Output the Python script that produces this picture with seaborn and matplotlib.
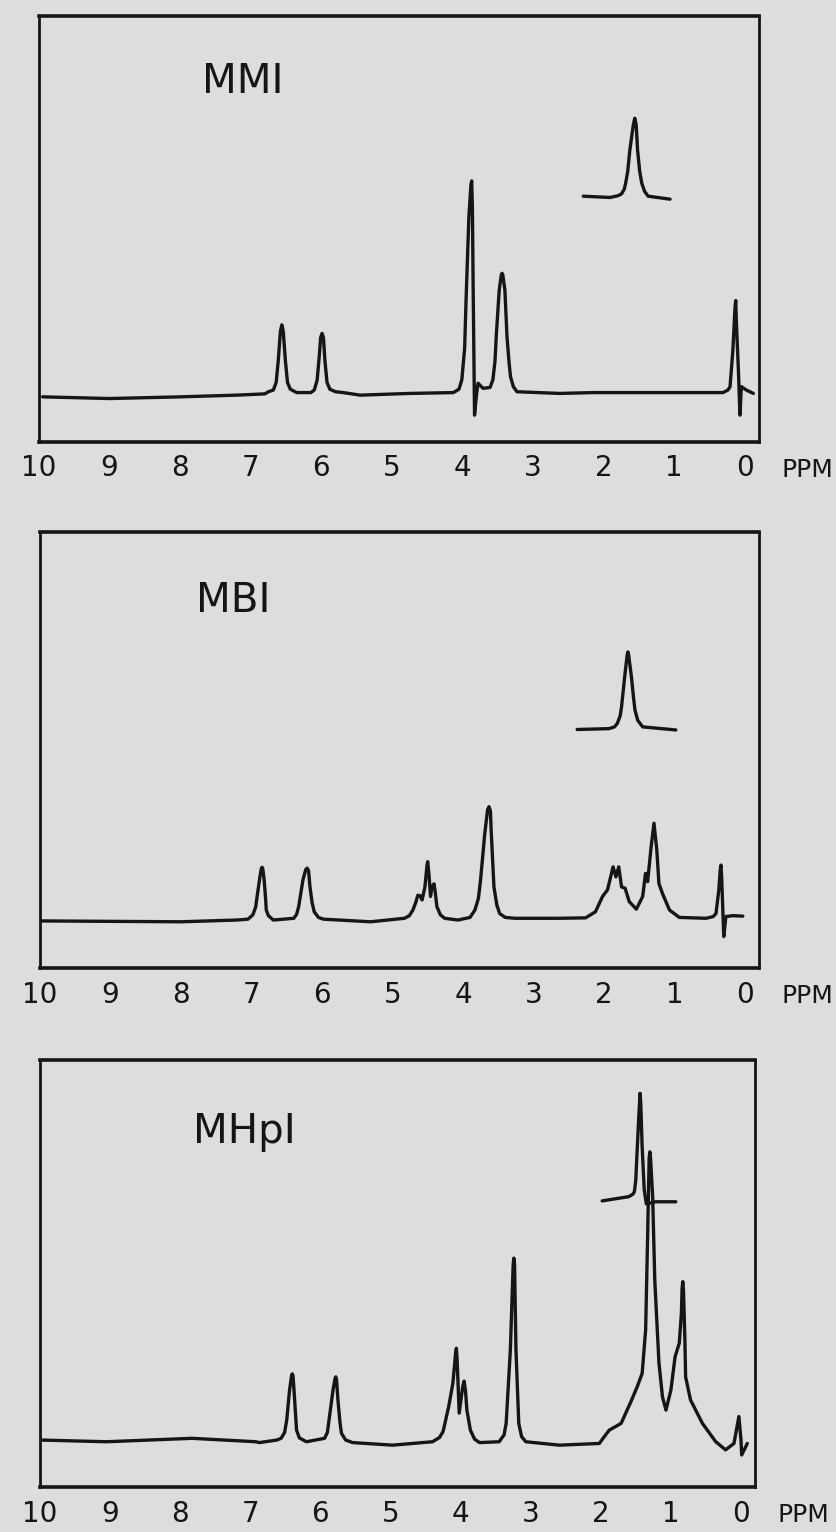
import matplotlib
matplotlib.use("Agg")
import matplotlib.pyplot as plt
import pandas as pd
import seaborn as sns

# spectra: chemical shift (ppm) and height (% of panel height)
names = ["MMI", "MBI", "MHpI"]

mmi_ppm = [9.95, 9.0, 8.0, 7.2, 6.8,
           6.75, 6.68, 6.64, 6.61, 6.58, 6.56, 6.54, 6.51, 6.48, 6.44, 6.35,
           6.15, 6.10, 6.06, 6.03, 6.01, 5.99, 5.97, 5.95, 5.92, 5.88, 5.80, 5.69,
           5.45, 4.75, 4.13,
           4.05, 4.01, 3.97, 3.95, 3.91, 3.88, 3.87, 3.86, 3.85, 3.83, 3.80, 3.78, 3.71, 3.61,
           3.57, 3.54, 3.52, 3.48, 3.45, 3.44, 3.43, 3.40, 3.37, 3.34, 3.32, 3.28, 3.23,
           2.62, 2.15, 1.20, 0.31,
           0.24, 0.21, 0.17, 0.14, 0.13, 0.12, 0.09, 0.07, 0.05, -0.02, -0.12]
mmi_int = [10.6, 10.2, 10.6, 11.0, 11.3,
           11.8, 12.2, 14.0, 19.2, 26.0, 27.5, 26.0, 19.2, 14.0, 12.4, 11.6,
           11.6, 12.2, 14.5, 20.0, 24.5, 25.5, 24.5, 19.2, 14.0, 12.4, 11.8, 11.6,
           11.0, 11.4, 11.6,
           12.4, 14.6, 22.0, 33.3, 52.9, 60.5, 61.3, 55.0, 37.2, 6.3, 11.5, 13.8, 12.6, 12.8,
           14.6, 19.0, 25.5, 35.7, 39.3, 39.6, 39.3, 35.7, 24.7, 18.5, 15.3, 13.0, 11.8,
           11.4, 11.6, 11.6, 11.6,
           12.2, 13.0, 21.6, 31.5, 33.2, 28.0, 16.1, 6.3, 13.0, 12.2, 11.4]
mmi_inset_ppm = [2.29, 1.91, 1.80, 1.75, 1.71, 1.69, 1.66, 1.63, 1.58, 1.56,
                 1.54, 1.52, 1.49, 1.46, 1.42, 1.37, 1.06]
mmi_inset_int = [57.7, 57.4, 57.8, 58.2, 59.3, 60.7, 63.5, 68.5, 74.5, 76.0,
                 74.5, 68.5, 63.5, 60.7, 58.8, 57.7, 57.0]

mbi_ppm = [10.0, 8.0,
           7.21, 7.05, 6.98, 6.94, 6.92, 6.88, 6.86, 6.85, 6.84, 6.82, 6.80, 6.79, 6.76, 6.69,
           6.40, 6.36, 6.33, 6.27, 6.23, 6.21, 6.19, 6.17, 6.14, 6.11, 6.05, 5.98,
           5.31,
           4.83, 4.76, 4.71, 4.67, 4.64, 4.61, 4.58, 4.54, 4.51, 4.50, 4.48, 4.46, 4.44, 4.41,
           4.39, 4.37, 4.32, 4.26, 4.07,
           3.90, 3.83, 3.78, 3.75, 3.69, 3.65, 3.63, 3.61, 3.60, 3.56, 3.52, 3.48, 3.40, 3.26,
           2.64, 2.26, 2.12, 2.02, 1.95, 1.87, 1.83, 1.79, 1.75, 1.70, 1.64, 1.54,
           1.45, 1.41, 1.38, 1.33, 1.29, 1.25, 1.22, 1.17, 1.07, 0.93,
           0.55, 0.45, 0.41, 0.37, 0.35, 0.34, 0.33, 0.32, 0.30, 0.27, 0.17, 0.03]
mbi_int = [10.8, 10.6,
           11.0, 11.2, 12.2, 14.0, 16.4, 20.9, 22.8, 23.1, 22.8, 20.2, 16.0, 13.3, 12.0, 11.0,
           11.4, 12.3, 14.1, 20.2, 22.6, 22.9, 22.3, 18.6, 15.0, 12.9, 11.6, 11.2,
           10.6,
           11.4, 12.0, 13.3, 15.0, 16.7, 16.6, 15.6, 18.5, 23.5, 24.4, 21.0, 16.4, 18.6, 19.3,
           17.0, 14.1, 12.2, 11.4, 11.0,
           11.6, 13.3, 16.0, 20.2, 30.9, 36.3, 37.0, 36.0, 31.7, 18.6, 14.5, 12.5, 11.6, 11.4,
           11.4, 11.5, 12.9, 16.4, 17.9, 23.2, 20.9, 23.2, 18.6, 18.3, 15.2, 13.5,
           16.4, 21.7, 19.8, 27.8, 33.2, 27.1, 19.4, 17.1, 13.3, 11.6,
           11.4, 11.8, 12.5, 17.9, 22.5, 23.6, 21.0, 16.4, 7.2, 11.8, 12.0, 11.9]
mbi_inset_ppm = [2.38, 1.93, 1.85, 1.81, 1.77, 1.75, 1.70, 1.67, 1.66, 1.65,
                 1.61, 1.58, 1.56, 1.52, 1.45, 0.98]
mbi_inset_int = [54.7, 54.9, 55.3, 56.1, 57.8, 59.9, 67.6, 71.8, 72.5, 71.8,
                 66.8, 62.0, 59.2, 56.8, 55.3, 54.6]

mhpi_ppm = [10.0, 9.05, 7.83, 6.92, 6.87,
            6.62, 6.56, 6.51, 6.48, 6.44, 6.41, 6.40, 6.39, 6.37, 6.34, 6.30, 6.20,
            5.94, 5.90, 5.87, 5.82, 5.79, 5.78, 5.77, 5.75, 5.72, 5.70, 5.64, 5.54,
            4.97,
            4.40, 4.30, 4.25, 4.17, 4.11, 4.07, 4.06, 4.05, 4.02, 3.97, 3.95, 3.93, 3.91,
            3.86, 3.80, 3.73,
            3.45, 3.38, 3.35, 3.29, 3.25, 3.24, 3.23, 3.21, 3.17, 3.13, 3.07, 2.59,
            2.02, 1.95, 1.88, 1.71, 1.57, 1.48, 1.41, 1.36, 1.33, 1.31, 1.30, 1.29,
            1.26, 1.23, 1.17, 1.12, 1.07, 1.00, 0.94, 0.88, 0.85, 0.84, 0.83, 0.82,
            0.80, 0.79, 0.72, 0.55, 0.36, 0.22, 0.10, 0.03, 0.00, -0.01, -0.09]
mhpi_int = [11.0, 10.6, 11.4, 10.6, 10.4,
            11.0, 11.4, 12.8, 15.7, 22.7, 26.2, 26.5, 26.0, 21.1, 13.3, 11.5, 10.6,
            11.4, 12.8, 16.5, 22.7, 25.5, 25.8, 25.2, 20.4, 15.0, 12.6, 11.0, 10.4,
            9.8,
            10.6, 11.6, 13.0, 18.8, 24.3, 31.5, 32.5, 30.0, 17.3, 23.5, 24.8, 22.5, 18.0,
            13.3, 11.2, 10.4,
            10.6, 12.2, 14.9, 32.1, 52.0, 53.6, 52.0, 32.1, 14.9, 11.8, 10.6, 9.8,
            10.2, 11.8, 13.3, 14.9, 20.0, 23.5, 26.6, 36.8, 60.2, 77.0, 78.5, 77.0,
            68.0, 48.5, 29.0, 21.1, 18.0, 22.7, 30.5, 33.7, 40.7, 46.5, 48.1, 46.0,
            34.4, 25.8, 20.4, 14.9, 10.6, 8.7, 10.2, 16.5, 11.0, 7.5, 10.2]
mhpi_inset_ppm = [1.98, 1.60, 1.54, 1.52, 1.50, 1.49, 1.46, 1.44, 1.43, 1.41,
                  1.38, 1.35, 1.22, 0.93]
mhpi_inset_int = [67.0, 68.0, 68.6, 69.2, 72.0, 75.8, 86.0, 92.2, 90.0, 79.7,
                  69.6, 66.3, 66.8, 66.8]

ticks = list(range(0, 11))
tick_labels = [str(t) for t in ticks]

spectra = [(mmi_ppm, mmi_int), (mbi_ppm, mbi_int), (mhpi_ppm, mhpi_int)]
insets = [(mmi_inset_ppm, mmi_inset_int), (mbi_inset_ppm, mbi_inset_int),
          (mhpi_inset_ppm, mhpi_inset_int)]

sns.set_theme(style="white")
plt.rcParams["font.family"] = ["DejaVu Sans"]

paper = "#dddddd"
ink = "#151515"
W, H = 837, 1532

# panel boxes in pixels: left, right, top, bottom
boxes = [(39, 759, 16, 442), (40, 759, 532, 968), (40, 755, 1060, 1487)]
name_pos = [(0.226, 0.819), (0.217, 0.817), (0.214, 0.806)]

fig = plt.figure(figsize=(W / 100, H / 100), dpi=100, facecolor=paper)

for i, name in enumerate(names):
    l, r, t, b = boxes[i]
    ax = fig.add_axes([l / W, 1 - b / H, (r - l) / W, (b - t) / H])
    ax.set_facecolor(paper)

    for ppm, inten in (spectra[i], insets[i]):
        df = pd.DataFrame({"ppm": ppm, "intensity": inten})
        sns.lineplot(data=df, x="ppm", y="intensity", sort=False, estimator=None,
                     color=ink, lw=2.4, solid_joinstyle="round",
                     solid_capstyle="round", ax=ax)

    ax.set_xlim(10, -0.2)
    ax.set_ylim(0, 100)
    ax.set_xticks(ticks)
    ax.set_xticklabels(tick_labels)
    ax.set_yticks([])
    ax.set_xlabel("")
    ax.set_ylabel("")
    ax.tick_params(axis="x", direction="in", length=7, width=1.8, pad=9,
                   labelsize=20, colors=ink, top=False)
    for side, s in ax.spines.items():
        s.set_visible(True)
        s.set_color(ink)
        s.set_linewidth(2.6 if side in ("top", "bottom") else 2.0)

    nx, ny = name_pos[i]
    ax.text(nx, ny, name, transform=ax.transAxes, fontsize=29, va="baseline",
            ha="left", color=ink)
    ax.annotate("PPM", xy=(1, 0), xycoords="axes fraction", xytext=(23, -28),
                textcoords="offset pixels", ha="left", va="center",
                fontsize=18, color=ink)

fig.savefig("out.png", dpi=100, facecolor=paper)
